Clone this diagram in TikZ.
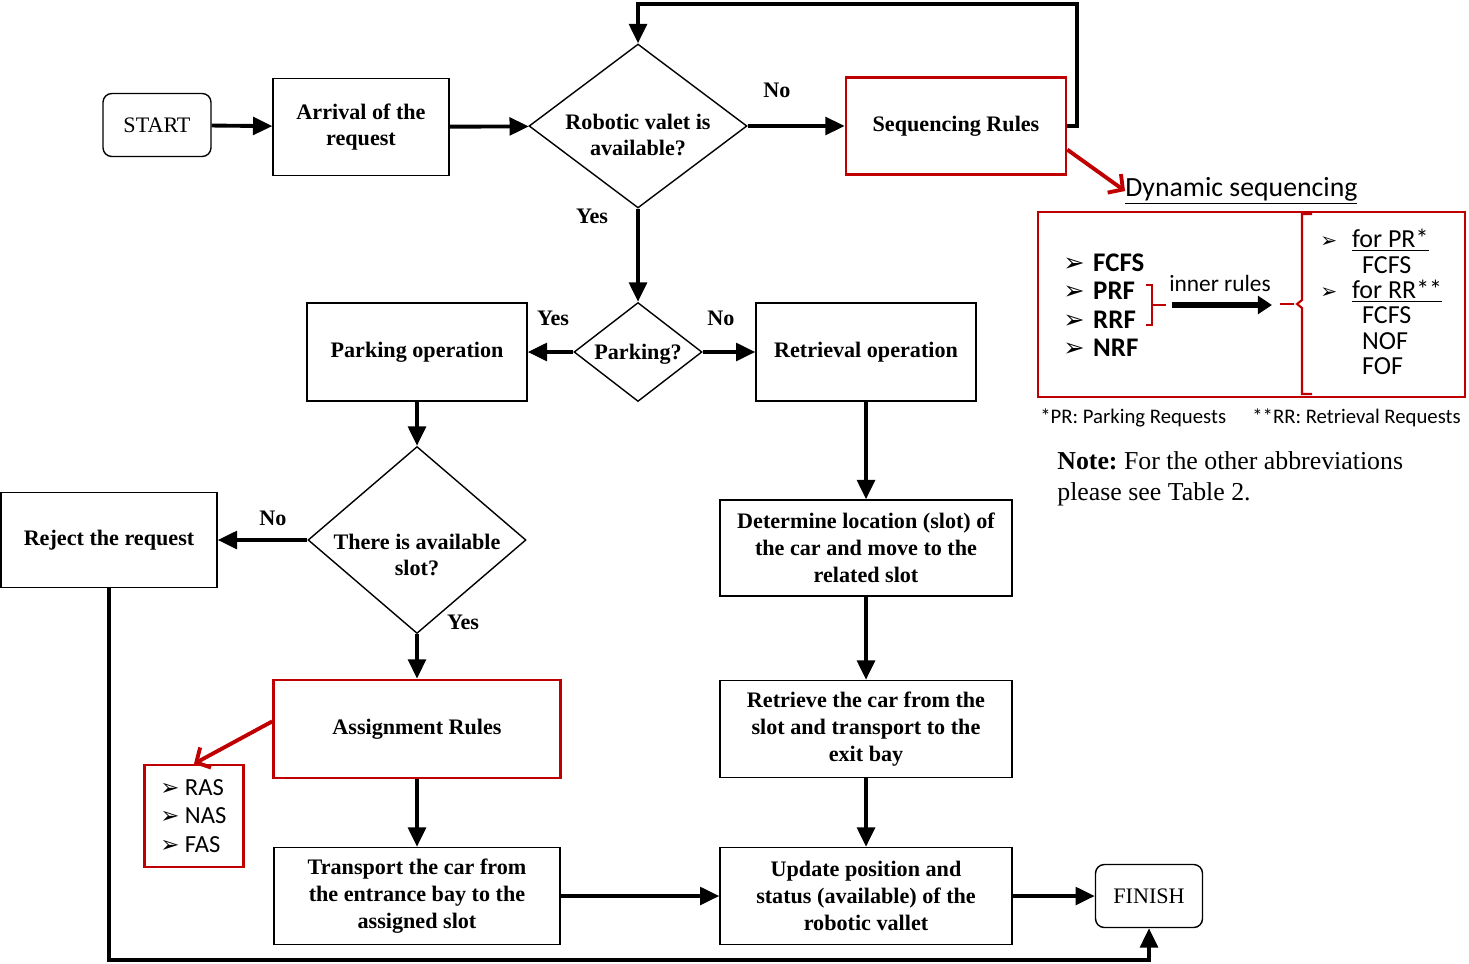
\documentclass[tikz,border=0pt]{standalone}
\usepackage{fontspec}
\setmainfont{Liberation Serif}
\newfontfamily\calibrifont{Carlito}
\newfontfamily\symbfont{DejaVu Sans}
\usetikzlibrary{shapes.geometric,arrows.meta}
\definecolor{rulered}{RGB}{192,0,0}
\newcommand{\bul}[1]{{\symbfont\fontsize{#1}{#1}\selectfont ➢}}

\begin{document}
\begin{tikzpicture}[x=0.02cm,y=-0.02cm,
    font=\fontsize{12.6}{15.2}\selectfont\bfseries,
    process/.style={draw,line width=0.8pt,align=center,inner sep=0pt},
    rulebox/.style={process,draw=rulered,line width=1.5pt},
    terminal/.style={process,rounded corners=5pt,font=\fontsize{12.6}{15.2}\selectfont\mdseries},
    decision/.style={diamond,draw,line width=0.8pt,inner sep=0pt},
    flow/.style={line width=2.2pt,-{Triangle[length=11pt,width=10pt]}},
    redflow/.style={rulered,line width=2.2pt,-{Straight Barb[length=6pt,width=13pt]}},
    brace/.style={rulered,line width=1.2pt},
    list/.style={anchor=west,align=left,inner sep=0pt,font=\calibrifont\fontsize{14}{16.2}\selectfont}]
    \useasboundingbox (0,0) rectangle (1469,963);
    \node[terminal,minimum width=2.16cm,minimum height=1.26cm] (start) at (157,125) {START};
    \node[process,minimum width=3.52cm,minimum height=1.94cm] (arrival) at (361,127) {Arrival of the\\request};
    \node[decision,minimum width=4.36cm,minimum height=3.28cm] (robot) at (638,126) {};
    \node[align=center] (robottxt) at (638,135) {Robotic valet is\\available?};
    \node[rulebox,minimum width=4.40cm,minimum height=1.94cm] (seq) at (956,126) {Sequencing Rules};
    \node[decision,minimum width=2.56cm,minimum height=1.98cm] (parking) at (638,352) {};
    \node (parkingtxt) at (638,354) {Parking?};
    \node[process,minimum width=4.40cm,minimum height=1.96cm] (parkop) at (417,352) {Parking operation};
    \node[process,minimum width=4.40cm,minimum height=1.96cm] (retrop) at (866,352) {Retrieval operation};
    \node[decision,minimum width=4.36cm,minimum height=3.74cm] (slot) at (417,540) {};
    \node[align=center] (slottxt) at (417,555) {There is available\\slot?};
    \node[process,minimum width=4.32cm,minimum height=1.90cm] (reject) at (109,540) {Reject the request};
    \node[rulebox,minimum width=5.74cm,minimum height=1.96cm] (assign) at (417,729) {Assignment Rules};
    \node[process,minimum width=5.72cm,minimum height=1.94cm] (transport) at (417,896) {Transport the car from\\the entrance bay to the\\assigned slot};
    \node[process,minimum width=5.84cm,minimum height=1.92cm] (determine) at (866,548) {Determine location (slot) of\\the car and move to the\\related slot};
    \node[process,minimum width=5.84cm,minimum height=1.94cm] (retrieve) at (866,729) {Retrieve the car from the\\slot and transport to the\\exit bay};
    \node[process,minimum width=5.84cm,minimum height=1.94cm] (update) at (866,896) {Update position and\\status (available) of the\\robotic vallet};
    \node[terminal,minimum width=2.14cm,minimum height=1.26cm] (finish) at (1149,896) {FINISH};
    \node (no1) at (777,90) {No};
    \node (yes1) at (592,216) {Yes};
    \node (yes2) at (553,318) {Yes};
    \node (no2) at (721,318) {No};
    \node (no3) at (273,518) {No};
    \node (yes3) at (463,622) {Yes};
    \coordinate (loopR) at (1077,4);
    \coordinate (loopB) at (1149,960);
    \draw[flow] (start) -- (arrival);
    \draw[flow] (arrival) -- (robot);
    \draw[flow] (robot) -- (seq);
    \draw[flow] (seq.east) -| (loopR) -| (robot.north);
    \draw[flow] (robot.south) -- (parking.north);
    \draw[flow] (parking.west) -- (parkop.east);
    \draw[flow] (parking.east) -- (retrop.west);
    \draw[flow] (parkop.south) -- (slot.north);
    \draw[flow] (slot.west) -- (reject.east);
    \draw[flow] (slot.south) -- (assign.north);
    \draw[flow] (assign.south) -- (transport.north);
    \draw[flow] (transport.east) -- (update.west);
    \draw[flow] (retrop.south) -- (determine.north);
    \draw[flow] (determine.south) -- (retrieve.north);
    \draw[flow] (retrieve.south) -- (update.north);
    \draw[flow] (update.east) -- (finish.west);
    \draw[flow] (reject.south) |- (loopB) -- (finish.south);
    \node[rulebox,line width=1.4pt,minimum width=1.98cm,minimum height=2.04cm] (ras) at (194,816) {};
    \node[list] (raslist) at (160,816) {\makebox[14pt][l]{\bul{13}}RAS\\\makebox[14pt][l]{\bul{13}}NAS\\\makebox[14pt][l]{\bul{13}}FAS};
    \draw[redflow] (assign.177) -- (ras.north);
    \node[anchor=west,inner sep=0pt,font=\calibrifont\fontsize{15.8}{18}\selectfont] (dynhead) at (1125,191) {\underline{Dynamic sequencing}};
    \draw[redflow] (seq.-12) -- (dynhead.west);
    \node[draw=rulered,line width=1.5pt,minimum width=8.54cm,minimum height=3.70cm] (dynbox) at (1251.5,304.5) {};
    \node[list,font=\calibrifont\bfseries\fontsize{15.3}{16.2}\selectfont] (seqlist) at (1063,305) {\makebox[17pt][l]{\bul{14.5}}FCFS\\\makebox[17pt][l]{\bul{14.5}}PRF\\\makebox[17pt][l]{\bul{14.5}}RRF\\\makebox[17pt][l]{\bul{14.5}}NRF};
    \draw[brace] (1146,285) -- (1152,285) -- (1152,325) -- (1146,325) (1152,305) -- (1166,305);
    \node[font=\calibrifont\fontsize{13.3}{15}\selectfont] (inner) at (1220,283) {inner rules};
    \coordinate (innerA) at (1172,305);
    \coordinate (innerB) at (1272,305);
    \draw[line width=3pt,-{Triangle[length=8pt,width=10pt]}] (innerA) -- (innerB);
    \draw[brace] (1280,304) -- (1294,304);
    \draw[brace] (1312,214) -- (1302,214) -- (1302,300) -- (1297,304) -- (1302,308) -- (1302,394) -- (1312,394);
    \node[list,font=\calibrifont\fontsize{14.8}{14.4}\selectfont] (innerlist) at (1320,302) {\makebox[18pt][l]{\bul{11.5}}\underline{for PR*}\\\hspace*{23.8pt}FCFS\\\makebox[18pt][l]{\bul{11.5}}\underline{for RR**}\\\hspace*{23.8pt}FCFS\\\hspace*{23.8pt}NOF\\\hspace*{23.8pt}FOF};
    \node[anchor=west,inner sep=0pt,font=\calibrifont\fontsize{11.8}{14}\selectfont] (prnote) at (1040,418) {*PR: Parking Requests};
    \node[anchor=west,inner sep=0pt,font=\calibrifont\fontsize{11.8}{14}\selectfont] (rrnote) at (1252,418) {**RR: Retrieval Requests};
    \node[anchor=west,align=left,inner sep=0pt,font=\fontsize{14.7}{17.6}\selectfont\mdseries] (note) at (1057,479) {\textbf{Note:}\ For the other abbreviations\\please see Table 2.};
\end{tikzpicture}
\end{document}
